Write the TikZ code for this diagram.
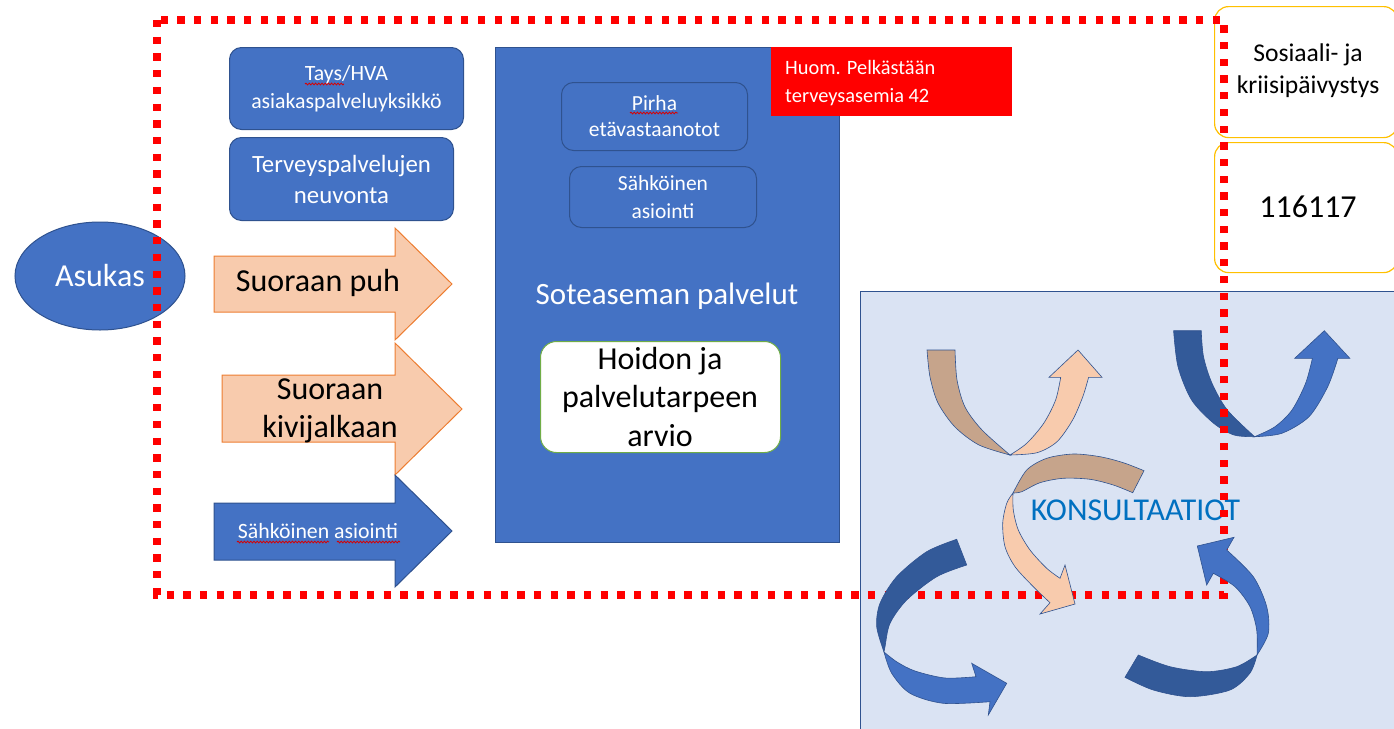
\documentclass[tikz,border=0pt]{standalone}
\usepackage{fontspec}
\setmainfont{Carlito}
\usetikzlibrary{shapes.geometric,decorations.pathmorphing}
\definecolor{blueA}{HTML}{4472C4}
\definecolor{blueD}{HTML}{2F528F}
\definecolor{blueB}{HTML}{335A99}
\definecolor{peach}{HTML}{F8CBAD}
\definecolor{orangeE}{HTML}{ED7D31}
\definecolor{tanC}{HTML}{C6A48B}
\definecolor{panelC}{HTML}{DAE3F3}
\definecolor{goldC}{HTML}{FFC000}
\definecolor{greenE}{HTML}{70AD47}
\definecolor{konsul}{HTML}{0070C0}
\newcommand\fsz[2]{\fontsize{#1pt}{#2pt}\selectfont}
\begin{document}
\begin{tikzpicture}[x=1pt,y=-1pt,
  bluebox/.style={draw=blueD, fill=blueA, line width=1pt, rounded corners=12pt, text=white, align=center, anchor=north west, inner sep=0pt},
  innerbox/.style={draw=blueD, line width=1pt, rounded corners=12pt, text=white, align=center, anchor=north west, inner sep=0pt},
  goldbox/.style={draw=goldC, fill=white, line width=1.2pt, rounded corners=14pt, anchor=north west, inner sep=0pt},
  peacharrow/.style={draw=orangeE, fill=peach, line width=1pt},
  bluearrow/.style={draw=blueD, fill=blueA, line width=1pt},
  lbl/.style={align=center, inner sep=0pt},
  darkband/.style={fill=blueB, draw=blueD, line width=0.6pt},
  lightband/.style={fill=blueA, draw=blueD, line width=0.6pt},
  tanband/.style={fill=tanC, draw=blueD, line width=0.6pt},
  peachband/.style={fill=peach, draw=blueD, line width=0.6pt},
  reddots/.style={draw=red, line width=7.3pt, dash pattern=on 7.3pt off 9.4pt},
  squiggle/.style={draw=red!85!black, line width=0.8pt, decorate, decoration={snake, segment length=3.2pt, amplitude=0.9pt}}
]
\useasboundingbox (0,0) rectangle (1394,728);

% consultation panel
\fill[panelC] (860,291) rectangle (1402,735);
\draw[blueD, line width=0.8pt] (1402,291) -- (860,291) -- (860,735);

% upper-right U arrow (under the dotted frame)
\path[darkband] plot[smooth] coordinates {(1173.6,330.7) (1178,366.7) (1191.6,400) (1213.7,423.3) (1234,435) (1254.6,436.7)}
  -- plot[smooth] coordinates {(1254.6,436.7) (1227.3,410) (1212,383.3) (1203.5,356.7) (1201.2,330.7)} -- cycle;
\path[lightband] plot[smooth] coordinates {(1254.6,436.7) (1281.8,433.3) (1309,416.7) (1327.7,386.7) (1337.9,358.3)}
  -- (1349.8,358.3) -- (1324.3,330.7) -- (1294.7,358.3) -- (1312.4,358.3)
  -- plot[smooth] coordinates {(1312.4,358.3) (1305.6,383.3) (1292,410) (1275,426.7) (1254.6,436.7)} -- cycle;

\node[font=\fsz{31.8}{37}, text=konsul, lbl] (kons) at (1135.5,510) {KONSULTAATIOT};

% right boxes
\node[goldbox, minimum width=183pt, minimum height=131pt] (sos) at (1214,6) {};
\node[lbl, font=\fsz{25.6}{32}] (sostxt) at (1308,71) {Sosiaali- ja\\kriisipäivystys};
\node[goldbox, minimum width=183pt, minimum height=130pt] (num) at (1214,142) {};
\node[lbl, font=\fsz{32}{38}] (numtxt) at (1308,207) {116117};

% resident
\node[ellipse, draw=blueD, fill=blueA, line width=1pt, minimum width=170pt, minimum height=108pt, inner sep=0pt, text=white, font=\fsz{32}{38}] (asukas) at (100,276) {Asukas};

% left boxes
\node[bluebox, minimum width=234pt, minimum height=82pt, font=\fsz{21.8}{28}] (tays) at (229,47) {Tays/HVA\\asiakaspalveluyksikkö};
\draw[squiggle] (305,84) -- (344,84);
\node[bluebox, minimum width=224pt, minimum height=83pt, font=\fsz{24.8}{31}] (neuv) at (229,137) {Terveyspalvelujen\\neuvonta};

% block arrows
\path[peacharrow] (214,256) -- (395,256) -- (395,228) -- (452,284) -- (395,340) -- (395,312) -- (214,312) -- cycle;
\node[lbl, font=\fsz{32}{38}] (puh) at (318,283) {Suoraan puh};
\path[peacharrow] (222,375) -- (395,375) -- (395,343) -- (462,409) -- (395,475) -- (395,442) -- (222,442) -- cycle;
\node[lbl, font=\fsz{32}{38}] (kivi) at (330,411) {Suoraan\\kivijalkaan};
\path[bluearrow] (214,503) -- (395,503) -- (395,475) -- (452,531) -- (395,587) -- (395,560) -- (214,560) -- cycle;
\node[lbl, font=\fsz{21.8}{26}, text=white] (sahk) at (318,531) {Sähköinen asiointi};
\draw[squiggle] (237,542) -- (329,542);
\draw[squiggle] (337,542) -- (400,542);

% health station
\node[draw=blueD, fill=blueA, line width=1pt, anchor=north west, minimum width=344pt, minimum height=495pt, inner sep=0pt] (sote) at (495,47) {};
\node[fill=red, anchor=north west, minimum width=241pt, minimum height=69pt, inner sep=0pt] (huom) at (771,47) {};
\node[lbl, align=left, anchor=west, text=white, font=\fsz{20.4}{28}] (huomtxt) at (785,83) {Huom. Pelkästään\\terveysasemia 42};
\node[innerbox, minimum width=186pt, minimum height=68pt, font=\fsz{21.5}{26}] (pirha) at (561,82) {Pirha\\etävastaanotot};
\draw[squiggle] (630,113) -- (678,113);
\node[innerbox, minimum width=187pt, minimum height=61pt, font=\fsz{21.5}{28}] (sahk2) at (569,166) {Sähköinen\\asiointi};
\node[lbl, text=white, font=\fsz{31}{37}] (sotetxt) at (667,296) {Soteaseman palvelut};
\node[draw=greenE, fill=white, line width=1pt, rounded corners=16pt, anchor=north west, minimum width=240pt, minimum height=111pt, inner sep=0pt] (hoito) at (540,341) {};
\node[lbl, font=\fsz{32}{38.5}] (hoitotxt) at (660,397) {Hoidon ja\\palvelutarpeen\\arvio};

% dotted frame
\draw[reddots] (157,20) rectangle (1224,595);

% peach U arrow
\path[tanband] plot[smooth] coordinates {(927,350) (930,377) (938,403) (955,427) (979,445) (1010,455)}
  -- plot[smooth] coordinates {(1010,455) (982,430) (965,407) (957,380) (955,350)} -- cycle;
\path[peachband] plot[smooth] coordinates {(1010,455) (1037,452.7) (1057,441.7) (1072.6,420) (1082.8,396.7) (1088.6,377.3)}
  -- (1102,377.3) -- (1078,350) -- (1049,377.3) -- (1060.7,377.3)
  -- plot[smooth] coordinates {(1060.7,377.3) (1055.6,400) (1043.7,423.3) (1026.7,443.3) (1010,455)} -- cycle;

% peach S arrow
\path[tanband] plot[smooth] coordinates {(1144,470.7) (1123.3,462.7) (1100,456.7) (1073.3,454) (1046.7,458.3) (1026.7,470) (1013,493)}
  -- plot[smooth] coordinates {(1013,493) (1021.7,491.7) (1040,482.7) (1063.3,478.3) (1090,479.3) (1113.3,485) (1132.7,492.7)} -- cycle;
\path[peachband] plot[smooth] coordinates {(1013,493) (1006.7,503.3) (1002.7,523.3) (1005,546.7) (1015,566.7) (1033.3,586.7) (1050,602.7)}
  -- (1040,614) -- (1075,604) -- (1065,565) -- (1060,578.3)
  -- plot[smooth] coordinates {(1060,578.3) (1046.7,568.3) (1030,550) (1018.3,530) (1013.3,510) (1013,493)} -- cycle;

% bottom-left C arrow
\path[darkband] plot[smooth] coordinates {(956.7,539.3) (926.7,551.7) (896.7,576.7) (880,603.3) (876.7,626.7) (884,652)}
  -- plot[smooth] coordinates {(884,652) (885,646.7) (890,623.3) (906.7,600) (936.7,576.7) (966.7,565)} -- cycle;
\path[lightband] plot[smooth] coordinates {(884,652) (891.7,673.3) (910,693.3) (943.3,703.3) (990,701.7)}
  -- (988.3,715) -- (1006.7,683.3) -- (971.7,663.3) -- (976,676.7)
  -- plot[smooth] coordinates {(976,676.7) (945,678) (915,671) (897,662) (884,652)} -- cycle;

% bottom-right arrow
\path[darkband] plot[smooth] coordinates {(1125,677.3) (1153.3,690) (1190,696.7) (1230,690) (1250,673) (1257,655)}
  -- plot[smooth] coordinates {(1257,655) (1236.7,666.7) (1206.7,671.7) (1170,666.7) (1138.3,655)} -- cycle;
\path[lightband] plot[smooth] coordinates {(1257,655) (1268.3,633.3) (1266.7,606.7) (1253.3,576.7) (1226.7,550)}
  -- (1234,537.3) -- (1197.3,546) -- (1206.7,585) -- (1213.3,573.3)
  -- plot[smooth] coordinates {(1213.3,573.3) (1235,586.7) (1250,606.7) (1256.7,630) (1257,655)} -- cycle;
\end{tikzpicture}
\end{document}
